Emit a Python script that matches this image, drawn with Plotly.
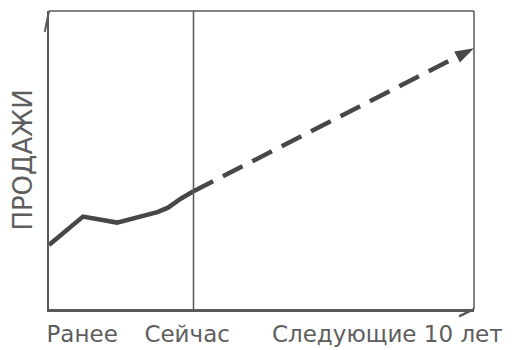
import plotly.graph_objects as go

# Data (arbitrary units: x = time, y = sales)
x_past = [0, 8, 16, 21.5, 25.5, 28, 31, 34]
y_past = [21.5, 31, 29, 31, 32.5, 34, 37, 39.5]
x_future = [34, 100]
y_future = [39.5, 87.5]
now_x = 34
tick_vals = [7.8, 32.5, 79.6]
tick_text = ["Ранее", "Сейчас", "Следующие 10 лет"]
y_title = "ПРОДАЖИ"

line_col = "#474747"
axis_col = "#585858"
text_col = "#5e5e5e"
font_family = "DejaVu Sans"

fig = go.Figure()
fig.add_trace(go.Scatter(
    x=x_past, y=y_past, mode="lines",
    line=dict(color=line_col, width=4.5), hoverinfo="skip", showlegend=False,
))
fig.add_trace(go.Scatter(
    x=x_future, y=y_future, mode="lines+markers",
    line=dict(color=line_col, width=4.5, dash="22px,11px"),
    marker=dict(symbol=["circle", "arrow"], size=[0, 20], color=line_col,
                angleref="previous", opacity=1, line=dict(width=0)),
    hoverinfo="skip", showlegend=False, cliponaxis=False,
))

# "Now" divider
fig.add_shape(type="line", xref="x", yref="paper", x0=now_x, x1=now_x, y0=0, y1=1,
              line=dict(color=axis_col, width=1.5))
# top and right frame lines
fig.add_shape(type="line", xref="paper", yref="paper", x0=0, x1=1, y0=1, y1=1,
              line=dict(color=axis_col, width=1.5))
fig.add_shape(type="line", xref="paper", yref="paper", x0=1, x1=1, y0=0, y1=1,
              line=dict(color=axis_col, width=1.5))
# small axis arrow hints
fig.add_shape(type="line", xref="paper", yref="paper", x0=0, x1=-0.01, y0=1, y1=0.93,
              line=dict(color=axis_col, width=2))
fig.add_shape(type="line", xref="paper", yref="paper", x0=1, x1=0.965, y0=0, y1=-0.025,
              line=dict(color=axis_col, width=2.5))

fig.update_layout(
    width=506, height=342,
    margin=dict(l=41, r=40, t=3, b=41),
    paper_bgcolor="white", plot_bgcolor="white",
    font=dict(family=font_family, color=text_col),
    xaxis=dict(range=[0, 100], showgrid=False, zeroline=False, automargin=False,
               showline=True, linecolor=axis_col, linewidth=3,
               tickmode="array", tickvals=tick_vals, ticktext=tick_text,
               ticks="", tickfont=dict(size=23, color=text_col),
               ticklabelstandoff=2),
    yaxis=dict(range=[0, 100], showgrid=False, zeroline=False, automargin=False,
               showline=True, linecolor=axis_col, linewidth=2,
               showticklabels=False, ticks="",
               title=dict(text=y_title, font=dict(size=26, color=text_col), standoff=7)),
)

fig.write_html("out.html")
